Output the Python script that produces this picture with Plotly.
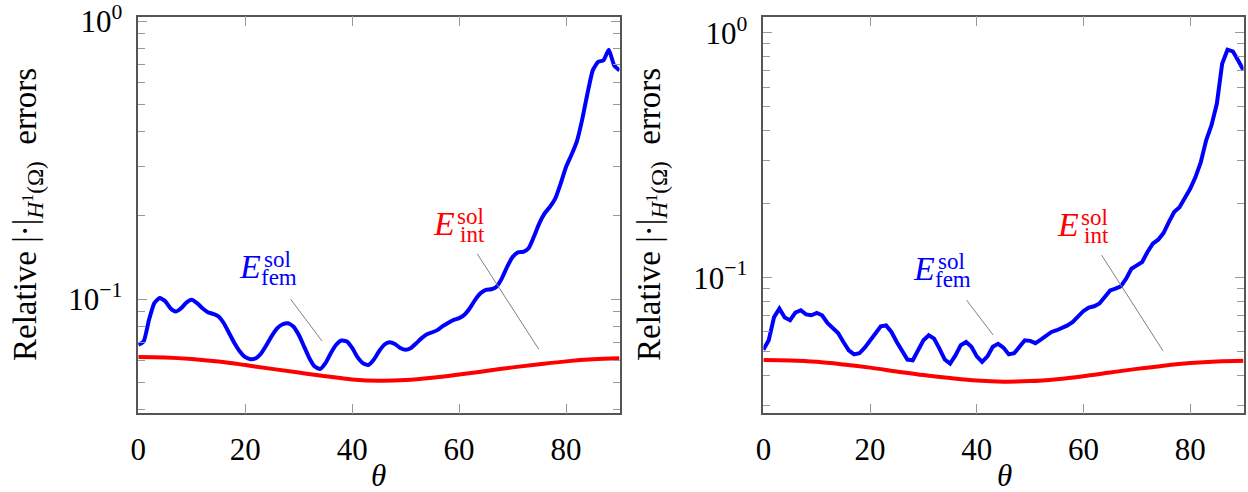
import math
import plotly.graph_objects as go

# ---------------- data ----------------
theta = list(range(0, 91))

fem_left = [0.0686, 0.0705, 0.0843, 0.0968, 0.101, 0.0986, 0.0928, 0.0903, 0.0928, 0.0973,
            0.0995, 0.0968, 0.0928, 0.0898, 0.0886, 0.0867, 0.082, 0.0755, 0.0695, 0.0649,
            0.0619, 0.0609, 0.0614, 0.064, 0.0686, 0.074, 0.0787, 0.0813, 0.082, 0.0798,
            0.0745, 0.0677, 0.0614, 0.0573, 0.0561, 0.0589, 0.064, 0.0686, 0.0711, 0.0705,
            0.0668, 0.0619, 0.0589, 0.058, 0.0605, 0.0649, 0.0686, 0.07, 0.069, 0.0668,
            0.0658, 0.0668, 0.0695, 0.0725, 0.0749, 0.0761, 0.0776, 0.0802, 0.0824, 0.0843,
            0.0855, 0.0879, 0.0928, 0.0995, 0.105, 0.108, 0.1086, 0.111, 0.1189, 0.131,
            0.142, 0.1475, 0.148, 0.1525, 0.168, 0.1875, 0.2036, 0.215, 0.2305, 0.2608,
            0.299, 0.33, 0.368, 0.4405, 0.548, 0.665, 0.713, 0.723, 0.789, 0.693, 0.665]

fem_right = [0.0508, 0.0555, 0.069, 0.0747, 0.0687, 0.067, 0.072, 0.0736, 0.0708, 0.0702,
             0.0717, 0.0702, 0.0653, 0.0619, 0.0594, 0.0546, 0.0505, 0.0486, 0.0491, 0.0518,
             0.0552, 0.0594, 0.0633, 0.0638, 0.06, 0.0546, 0.0498, 0.0463, 0.046, 0.0505,
             0.0555, 0.0582, 0.0564, 0.0513, 0.0463, 0.0446, 0.0481, 0.053, 0.0546, 0.0522,
             0.0477, 0.0453, 0.0477, 0.0522, 0.0537, 0.0518, 0.0486, 0.0491, 0.0525, 0.0555,
             0.0552, 0.054, 0.0558, 0.0582, 0.06, 0.061, 0.0623, 0.0638, 0.0659, 0.069,
             0.0731, 0.0754, 0.0764, 0.0784, 0.0839, 0.0887, 0.0902, 0.0922, 0.099, 0.1088,
             0.1122, 0.1158, 0.1273, 0.1377, 0.1429, 0.152, 0.1686, 0.1853, 0.194, 0.21,
             0.2305, 0.2574, 0.2965, 0.364, 0.419, 0.513, 0.747, 0.853, 0.84, 0.771, 0.702]

theta_int = list(range(0, 91, 5))
int_left = [0.0620, 0.0618, 0.0610, 0.0597, 0.0580, 0.0562, 0.0545, 0.0529, 0.0515, 0.0509,
            0.0512, 0.0522, 0.0536, 0.0552, 0.0569, 0.0584, 0.0598, 0.0608, 0.0613]
int_right = [0.0461, 0.0459, 0.0453, 0.0442, 0.0429, 0.0414, 0.0400, 0.0389, 0.0380, 0.0376,
             0.0378, 0.0385, 0.0396, 0.0410, 0.0424, 0.0437, 0.0448, 0.0455, 0.0458]

x_ticks = [0, 20, 40, 60, 80]
y_major = [0.1, 1]
y_major_text = ["10<sup>−1</sup>", "10<sup>0</sup>"]
y_minor = [0.02, 0.03, 0.04, 0.05, 0.06, 0.07, 0.08, 0.09, 0.2, 0.3, 0.4, 0.5, 0.6, 0.7, 0.8, 0.9]

# pin lines (from label to curve), data coords: (x0, y0, x1, y1)
pin_fem_left = (28.5, 0.100, 34.35, 0.0708)
pin_int_left = (63.4, 0.1456, 74.9, 0.0661)
pin_fem_right = (38.1, 0.0809, 43.06, 0.0583)
pin_int_right = (63.4, 0.1236, 74.9, 0.0503)

# label anchors (position of the "E")
lab_fem_left = (20.92, 0.1307)
lab_int_left = (57.13, 0.1866)
lab_fem_right = (30.14, 0.109)
lab_int_right = (57.04, 0.1653)

BLUE = "#0000ff"
RED = "#ff0000"
FONT = "Liberation Serif"
FS = 31

fig = go.Figure()
fig.add_trace(go.Scatter(x=theta, y=fem_left, mode="lines", line=dict(color=BLUE, width=4, shape="spline", smoothing=0.5),
                         xaxis="x", yaxis="y", showlegend=False))
fig.add_trace(go.Scatter(x=theta_int, y=int_left, mode="lines", line=dict(color=RED, width=4, shape="spline"),
                         xaxis="x", yaxis="y", showlegend=False))
fig.add_trace(go.Scatter(x=theta, y=fem_right, mode="lines", line=dict(color=BLUE, width=4),
                         xaxis="x2", yaxis="y2", showlegend=False))
fig.add_trace(go.Scatter(x=theta_int, y=int_right, mode="lines", line=dict(color=RED, width=4, shape="spline"),
                         xaxis="x2", yaxis="y2", showlegend=False))

W, H = 1248, 492
ydom = [1 - 413.3 / H, 1 - 16.5 / H]
xdom1 = [138.3 / W, 619.5 / W]
xdom2 = [763.4 / W, 1243.5 / W]

def xax(dom, anchor):
    return dict(domain=dom, anchor=anchor, range=[0, 90], tickvals=x_ticks, ticks="inside", ticklen=10,
                tickwidth=1.2, tickcolor="#999999", showline=True, linecolor="#555555", linewidth=1.5,
                mirror="ticks", showgrid=False, zeroline=False, ticklabelstandoff=8, automargin=False,
                tickfont=dict(family=FONT, size=FS, color="black"))

def yax(dom, anchor, rng):
    return dict(domain=dom, anchor=anchor, type="log", range=rng, tickvals=y_major, ticktext=y_major_text,
                ticks="inside", ticklen=9, tickwidth=1.2, tickcolor="#999999", showline=True,
                linecolor="#555555", linewidth=1.5, mirror="ticks", showgrid=False, zeroline=False,
                ticklabelstandoff=8, ticklabeloverflow="allow", automargin=False,
                tickfont=dict(family=FONT, size=FS, color="black"),
                minor=dict(tickvals=y_minor, ticks="inside", ticklen=7, tickwidth=1.2, tickcolor="#999999",
                           showgrid=False))

annotations = []

def add_label(anchor, sub, color, xr, yr):
    x, y = anchor[0], math.log10(anchor[1])
    annotations.append(dict(x=x, y=y, xref=xr, yref=yr, text="<i>E</i>", showarrow=False,
                            font=dict(family=FONT, size=34, color=color), xanchor="center", yanchor="middle"))
    annotations.append(dict(x=x, y=y, xref=xr, yref=yr, text="sol", showarrow=False, xshift=27, yshift=7,
                            font=dict(family=FONT, size=23, color=color), xanchor="center", yanchor="middle"))
    annotations.append(dict(x=x, y=y, xref=xr, yref=yr, text=sub, showarrow=False, xshift=29, yshift=-11,
                            font=dict(family=FONT, size=23, color=color), xanchor="center", yanchor="middle"))

add_label(lab_fem_left, "fem", BLUE, "x", "y")
add_label(lab_int_left, "int", RED, "x", "y")
add_label(lab_fem_right, "fem", BLUE, "x2", "y2")
add_label(lab_int_right, "int", RED, "x2", "y2")

ytitle = "Relative |·|<sub><i>H</i><sup>1</sup>(Ω)</sub>  errors"
for xc in (27 / W, 651 / W):
    annotations.append(dict(x=xc, y=1 - 215 / H, xref="paper", yref="paper", text=ytitle, textangle=-90,
                            showarrow=False, font=dict(family=FONT, size=33, color="black"),
                            xanchor="center", yanchor="middle"))
for xc in (379 / W, 1004 / W):
    annotations.append(dict(x=xc, y=1 - 475 / H, xref="paper", yref="paper", text="<i>θ</i>",
                            showarrow=False, font=dict(family=FONT, size=FS, color="black"),
                            xanchor="center", yanchor="middle", borderpad=0))

shapes = []
for pin, xr, yr in ((pin_fem_left, "x", "y"), (pin_int_left, "x", "y"),
                    (pin_fem_right, "x2", "y2"), (pin_int_right, "x2", "y2")):
    shapes.append(dict(type="line", xref=xr, yref=yr, x0=pin[0], y0=pin[1],
                       x1=pin[2], y1=pin[3], line=dict(color="#7f7f7f", width=1)))

fig.update_layout(
    template="none",
    width=W, height=H, margin=dict(l=0, r=0, t=0, b=0, pad=0), autosize=False,
    paper_bgcolor="white", plot_bgcolor="white", showlegend=False,
    xaxis=xax(xdom1, "y"), yaxis=yax(ydom, "x", [-1.41, 0.0165]),
    xaxis2=xax(xdom2, "y2"), yaxis2=yax(ydom, "x2", [-1.554, 0.0665]),
    annotations=annotations, shapes=shapes,
)

fig.write_html("out.html", config={"displayModeBar": False},
               post_script="document.body.style.margin='0';document.body.style.overflow='hidden';")
